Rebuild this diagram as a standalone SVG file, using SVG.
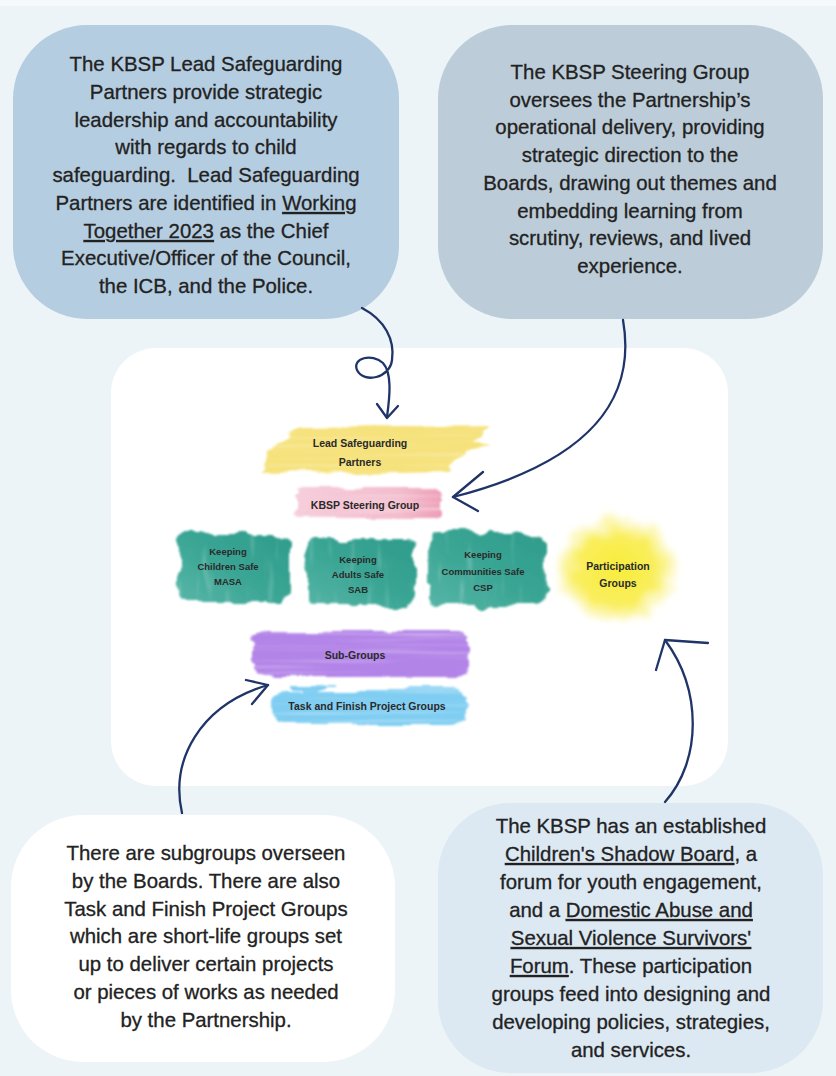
<svg xmlns="http://www.w3.org/2000/svg" width="836" height="1076" viewBox="0 0 836 1076">
<defs>
<style>
.bt{font-family:"Liberation Sans",Arial,sans-serif;font-size:20.4px;fill:#222;stroke:#222;stroke-width:0.3px;text-anchor:middle}
.lbl{font-family:"Liberation Sans",Arial,sans-serif;font-size:10.5px;font-weight:bold;fill:#2a2a2a;text-anchor:middle}
.sm{font-size:9.5px}
.arr{fill:none;stroke:#1f3468;stroke-width:2.3;stroke-linecap:round;stroke-linejoin:round}
.u{text-decoration:underline}
</style>
<filter id="brushH" x="-15%" y="-50%" width="130%" height="200%">
<feTurbulence type="fractalNoise" baseFrequency="0.015 0.09" numOctaves="3" seed="4" result="n"/>
<feDisplacementMap in="SourceGraphic" in2="n" scale="14" xChannelSelector="R" yChannelSelector="G" result="d"/>
<feTurbulence type="fractalNoise" baseFrequency="0.006 0.25" numOctaves="2" seed="9" result="t"/>
<feColorMatrix in="t" type="matrix" values="0 0 0 0 0 0 0 0 0 0 0 0 0 0 0 0 0 0 1.0 0.5" result="ta"/>
<feComposite in="d" in2="ta" operator="in" result="c"/>
<feGaussianBlur in="c" stdDeviation="0.9"/>
</filter>
<filter id="brushT" x="-20%" y="-20%" width="140%" height="140%">
<feTurbulence type="fractalNoise" baseFrequency="0.04 0.04" numOctaves="3" seed="2" result="n"/>
<feDisplacementMap in="SourceGraphic" in2="n" scale="16" xChannelSelector="R" yChannelSelector="G" result="d"/>
<feTurbulence type="fractalNoise" baseFrequency="0.12 0.02" numOctaves="2" seed="5" result="t"/>
<feColorMatrix in="t" type="matrix" values="0 0 0 0 0 0 0 0 0 0 0 0 0 0 0 0 0 0 0.8 0.68" result="ta"/>
<feComposite in="d" in2="ta" operator="in" result="c"/>
<feGaussianBlur in="c" stdDeviation="1"/>
</filter>
<filter id="blob" x="-30%" y="-30%" width="160%" height="160%">
<feTurbulence type="fractalNoise" baseFrequency="0.05" numOctaves="3" seed="8" result="n"/>
<feDisplacementMap in="SourceGraphic" in2="n" scale="22" xChannelSelector="R" yChannelSelector="G" result="d"/>
<feGaussianBlur in="d" stdDeviation="3"/>
</filter>
<radialGradient id="yg" cx="50%" cy="50%" r="50%">
<stop offset="0" stop-color="#f8ec3c"/>
<stop offset="0.65" stop-color="#f9ee5a"/>
<stop offset="1" stop-color="#fbf4a0" stop-opacity="0.35"/>
</radialGradient>
<linearGradient id="pg" x1="0" y1="0" x2="1" y2="0">
<stop offset="0" stop-color="#f6cedb"/>
<stop offset="0.7" stop-color="#f3bccd"/>
<stop offset="1" stop-color="#ee9db6"/>
</linearGradient>
<linearGradient id="tg" x1="0" y1="1" x2="1" y2="0">
<stop offset="0" stop-color="#56b5a6"/>
<stop offset="0.5" stop-color="#3aa594"/>
<stop offset="1" stop-color="#2f9c8b"/>
</linearGradient>
</defs>

<rect width="836" height="1076" fill="#edf4f7"/>
<rect width="836" height="6" fill="#f6f9fb"/>

<g id="panel"><rect x="111" y="348" width="617" height="438" rx="45" fill="#ffffff"/></g>

<g id="lead-partners-note">
<rect x="13" y="25" width="386" height="294" rx="74" fill="#b5cde0"/>
<text class="bt" x="206" y="71">The KBSP Lead Safeguarding</text>
<text class="bt" x="206" y="99">Partners provide strategic</text>
<text class="bt" x="206" y="127">leadership and accountability</text>
<text class="bt" x="206" y="154">with regards to child</text>
<text class="bt" x="206" y="182" xml:space="preserve">safeguarding.  Lead Safeguarding</text>
<text class="bt" x="206" y="210">Partners are identified in <tspan class="u">Working</tspan></text>
<text class="bt" x="206" y="238"><tspan class="u">Together 2023</tspan> as the Chief</text>
<text class="bt" x="206" y="265">Executive/Officer of the Council,</text>
<text class="bt" x="206" y="293">the ICB, and the Police.</text>
</g>

<g id="steering-note">
<rect x="438" y="25" width="385" height="294" rx="74" fill="#bccdd9"/>
<text class="bt" x="630" y="79">The KBSP Steering Group</text>
<text class="bt" x="630" y="107">oversees the Partnership’s</text>
<text class="bt" x="630" y="134">operational delivery, providing</text>
<text class="bt" x="630" y="162">strategic direction to the</text>
<text class="bt" x="630" y="190">Boards, drawing out themes and</text>
<text class="bt" x="630" y="218">embedding learning from</text>
<text class="bt" x="630" y="245">scrutiny, reviews, and lived</text>
<text class="bt" x="630" y="273">experience.</text>
</g>

<g id="subgroups-note">
<rect x="11" y="815" width="384" height="247" rx="72" fill="#ffffff"/>
<text class="bt" x="206" y="860">There are subgroups overseen</text>
<text class="bt" x="206" y="888">by the Boards. There are also</text>
<text class="bt" x="206" y="916">Task and Finish Project Groups</text>
<text class="bt" x="206" y="943">which are short-life groups set</text>
<text class="bt" x="206" y="971">up to deliver certain projects</text>
<text class="bt" x="206" y="999">or pieces of works as needed</text>
<text class="bt" x="206" y="1027">by the Partnership.</text>
</g>

<g id="participation-note">
<rect x="438" y="803" width="385" height="270" rx="72" fill="#dce8f2"/>
<text class="bt" x="631" y="833">The KBSP has an established</text>
<text class="bt" x="631" y="861"><tspan class="u">Children's Shadow Board</tspan>, a</text>
<text class="bt" x="631" y="889">forum for youth engagement,</text>
<text class="bt" x="631" y="917">and a <tspan class="u">Domestic Abuse and</tspan></text>
<text class="bt" x="631" y="945"><tspan class="u">Sexual Violence Survivors'</tspan></text>
<text class="bt" x="631" y="973"><tspan class="u">Forum</tspan>. These participation</text>
<text class="bt" x="631" y="1001">groups feed into designing and</text>
<text class="bt" x="631" y="1029">developing policies, strategies,</text>
<text class="bt" x="631" y="1057">and services.</text>
</g>

<g id="lead-safeguarding-partners">
<path d="M300,428 L488,426 L470,440 L490,446 L455,458 L445,472 L262,476 L268,452 Z" fill="#f6e27c" filter="url(#brushH)"/>
<text class="lbl" x="360" y="447">Lead Safeguarding</text>
<text class="lbl" x="360" y="466">Partners</text>
</g>

<g id="kbsp-steering-group">
<rect x="294" y="487" width="148" height="31" rx="6" fill="url(#pg)" filter="url(#brushH)"/>
<text class="lbl" x="365" y="509">KBSP Steering Group</text>
</g>

<g id="keeping-children-safe">
<rect x="180" y="534" width="110" height="68" rx="8" fill="url(#tg)" filter="url(#brushT)"/>
<text class="lbl sm" x="228" y="555">Keeping</text>
<text class="lbl sm" x="228" y="570">Children Safe</text>
<text class="lbl sm" x="228" y="585">MASA</text>
</g>

<g id="keeping-adults-safe">
<rect x="307" y="540" width="108" height="66" rx="8" fill="url(#tg)" filter="url(#brushT)"/>
<text class="lbl sm" x="358" y="563">Keeping</text>
<text class="lbl sm" x="358" y="578">Adults Safe</text>
<text class="lbl sm" x="358" y="593">SAB</text>
</g>

<g id="keeping-communities-safe">
<rect x="429" y="533" width="117" height="72" rx="8" fill="url(#tg)" filter="url(#brushT)"/>
<text class="lbl sm" x="483" y="558">Keeping</text>
<text class="lbl sm" x="483" y="575">Communities Safe</text>
<text class="lbl sm" x="483" y="591">CSP</text>
</g>

<g id="participation-groups">
<ellipse cx="617" cy="569" rx="60" ry="52" fill="url(#yg)" filter="url(#blob)"/>
<text class="lbl" x="618" y="570">Participation</text>
<text class="lbl" x="618" y="587">Groups</text>
</g>

<g id="sub-groups">
<rect x="254" y="631" width="214" height="46" rx="10" fill="#b384e8" filter="url(#brushH)"/>
<text class="lbl" x="355" y="659">Sub-Groups</text>
</g>

<g id="task-finish-groups">
<rect x="272" y="689" width="194" height="36" rx="12" fill="#7fcdf2" filter="url(#brushH)"/>
<text class="lbl" x="367" y="710">Task and Finish Project Groups</text>
</g>

<g id="connectors">
<path class="arr" d="M362,308 C385,320 395,340 392,360 C390,378 364,384 357,370 C352,358 372,353 383,363 C392,373 390,395 387,417"/>
<path class="arr" d="M377,404 L387,418 L398,406"/>
<path class="arr" d="M623,320 C637,400 590,462 453,497"/>
<path class="arr" d="M483,472 L453,497 L478,511"/>
<path class="arr" d="M182,813 C170,760 200,705 268,685"/>
<path class="arr" d="M246,680 L268,685 L252,704"/>
<path class="arr" d="M665,802 C702,760 702,690 665,640"/>
<path class="arr" d="M656,670 L665,640 L708,643"/>
</g>
</svg>
